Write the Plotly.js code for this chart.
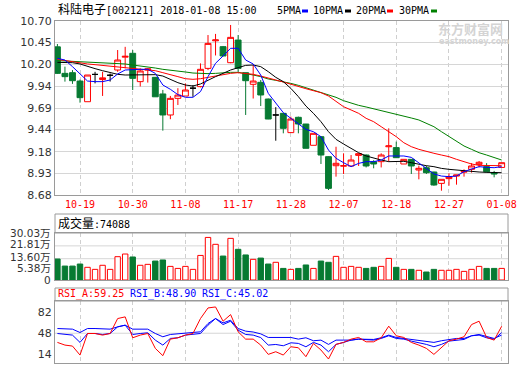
<!DOCTYPE html>
<html>
<head>
<meta charset="utf-8">
<script src="https://cdn.plot.ly/plotly-3.0.1.min.js"></script>
<style>html,body{margin:0;padding:0;background:#fff;}#chart{width:520px;height:365px;}</style>
</head>
<body>
<div id="chart"></div>
<script>
// ---------- data ----------
const dates = ['10-16','10-17','10-18','10-19','10-20','10-23','10-24','10-25','10-26','10-27','10-30','10-31',
  '11-01','11-02','11-03','11-06','11-07','11-08','11-09','11-10','11-13','11-14','11-15','11-16','11-17',
  '11-20','11-21','11-22','11-23','11-24','11-27','11-28','11-29','11-30',
  '12-01','12-04','12-05','12-06','12-07','12-08','12-11','12-12','12-13','12-14','12-15','12-18','12-19',
  '12-20','12-21','12-22','12-25','12-26','12-27','12-28','12-29',
  '01-02','01-03','01-04','01-05','01-08'];
const openP  = [10.40,10.092,10.10,10.003,9.763,10.08,10.02,10.07,10.131,10.28,10.325,9.996,10.13,10.046,9.853,9.609,9.802,9.829,9.92,9.938,
  10.15,10.47,10.402,10.216,10.479,10.10,9.965,9.988,9.794,9.609,9.628,9.404,9.582,9.504,9.257,9.357,9.125,9.02,9.015,9.017,
  9.14,9.144,9.067,9.067,9.24,9.23,9.04,9.094,8.97,8.997,8.947,8.815,8.87,8.90,8.945,8.978,9.036,9.009,8.939,9.0];
const highP  = [10.433,10.17,10.13,10.02,10.073,10.11,10.11,10.09,10.363,10.40,10.363,10.15,10.15,10.05,9.90,9.83,9.92,9.976,9.957,10.208,
  10.537,10.55,10.41,10.654,10.537,10.10,10.19,10.015,9.80,9.70,9.63,9.59,9.59,9.505,9.396,9.36,9.13,9.24,9.164,9.144,
  9.164,9.15,9.085,9.164,9.454,9.30,9.095,9.095,9.02,9.02,8.95,8.862,8.931,8.912,8.978,9.05,9.075,9.05,8.96,9.055];
const lowP   = [10.085,9.996,9.97,9.752,9.763,9.976,9.83,9.997,10.11,10.15,9.899,9.94,9.985,9.82,9.427,9.56,9.725,9.829,9.82,9.93,
  10.13,10.30,10.29,10.21,10.11,9.609,9.80,9.713,9.56,9.31,9.396,9.40,9.396,9.222,9.257,9.04,8.738,8.893,8.924,9.01,
  9.017,9.0,8.99,9.0,9.067,9.11,9.04,8.924,8.862,8.924,8.788,8.73,8.788,8.80,8.893,8.94,9.0,8.94,8.885,9.0];
const closeP = [10.092,10.054,10.007,9.81,10.073,10.08,10.04,10.07,10.247,10.29,10.034,10.12,10.145,9.82,9.609,9.802,9.84,9.899,9.92,10.139,
  10.44,10.48,10.294,10.51,10.15,10.007,10.003,9.841,9.562,9.609,9.454,9.562,9.504,9.222,9.396,9.144,8.757,9.048,9.02,9.086,
  9.16,9.017,9.04,9.144,9.25,9.113,9.094,9.017,8.99,8.939,8.796,8.862,8.89,8.912,8.955,9.017,9.06,8.95,8.924,9.055];
const ma5  = [10.267,10.247,10.170,10.092,10.003,9.996,9.996,10.015,10.085,10.131,10.139,10.139,10.139,10.092,9.957,9.907,9.845,9.814,9.814,9.880,
  10.054,10.209,10.294,10.383,10.383,10.247,10.201,10.073,9.860,9.744,9.636,9.570,9.504,9.442,9.415,9.357,9.202,9.106,9.055,9.009,
  9.047,9.067,9.067,9.086,9.133,9.133,9.133,9.117,9.055,8.989,8.924,8.900,8.893,8.900,8.951,8.982,9.009,9.001,8.997,9.009];
const ma10 = [10.220,10.220,10.216,10.201,10.178,10.147,10.123,10.100,10.081,10.073,10.073,10.077,10.081,10.077,10.061,10.023,9.984,9.957,9.945,9.969,
  10.015,10.054,10.092,10.131,10.158,10.185,10.189,10.170,10.112,10.046,9.996,9.918,9.822,9.713,9.628,9.531,9.415,9.326,9.272,9.222,
  9.171,9.133,9.106,9.086,9.067,9.071,9.071,9.055,9.036,9.020,9.009,8.989,8.978,8.970,8.958,8.951,8.947,8.943,8.939,8.939];
const ma20 = [10.255,10.240,10.224,10.209,10.201,10.193,10.185,10.178,10.170,10.162,10.154,10.147,10.139,10.123,10.100,10.073,10.054,10.030,10.023,10.030,
  10.046,10.065,10.081,10.092,10.100,10.092,10.081,10.061,10.034,10.015,9.992,9.969,9.938,9.914,9.891,9.868,9.829,9.763,9.705,9.667,
  9.628,9.570,9.531,9.473,9.415,9.357,9.287,9.241,9.210,9.183,9.164,9.144,9.125,9.094,9.067,9.040,9.024,9.020,9.020,9.020];
const ma30 = [10.240,10.236,10.232,10.228,10.228,10.224,10.220,10.216,10.209,10.201,10.189,10.178,10.170,10.154,10.139,10.131,10.120,10.108,10.096,10.089,
  10.089,10.092,10.100,10.104,10.104,10.092,10.073,10.054,10.027,10.011,9.996,9.976,9.953,9.926,9.899,9.872,9.845,9.814,9.775,9.744,
  9.721,9.702,9.682,9.659,9.636,9.616,9.597,9.574,9.551,9.512,9.473,9.415,9.357,9.299,9.249,9.210,9.171,9.144,9.117,9.086];
const volume = [13.4,8.9,8.9,10.2,8.1,6.8,9.4,6.8,14.9,16.6,14.7,9.4,10.0,12.1,12.8,8.7,7.4,8.7,6.8,15.7,
  27.2,22.8,15.3,26.6,19.6,16.0,13.2,14.0,10.2,11.3,7.4,6.8,7.4,9.6,7.4,12.1,11.3,15.1,8.1,8.7,
  8.1,7.4,8.1,8.7,13.8,8.1,6.8,6.8,6.2,5.1,6.8,6.2,6.2,6.8,5.5,6.8,8.7,7.4,7.4,7.41];
const rsiA = [33.2,28.9,27.3,12.8,47.6,47.6,45,47.6,71.7,74.4,40.7,45,47.6,23.6,11.8,38.5,40.7,45,47.6,71.7,
  88.8,90.4,67.4,78.1,50.3,38.5,38.5,28.9,13.9,18.2,12.8,26.2,24.6,10.2,31.6,20.9,6.4,30,33.2,38.5,
  41.2,34.2,34.2,40.7,59.4,43.9,41.2,33.2,28.9,23.6,13.9,24.6,35.9,38.5,42.3,62,67.4,41.2,36.9,59.25];
const rsiB = [47.6,46.5,45,33.2,47.6,47.6,46,47.6,58.3,61,46,47.6,48.7,36.9,28.9,39.6,40.7,45,46,47.6,
  61,71.7,62,67.4,53,46,45,41,28.9,29.9,27.8,32.6,31.6,26.2,33.2,28.9,18.2,30,33.2,36.9,
  38.5,38,36.9,39.6,43.9,39.6,38.5,35.3,33.2,30,26.2,30,35.3,36.9,38,43.9,45,40.7,38.5,48.90];
const rsiC = [55.6,55.6,54.6,49.2,55.6,55.6,55.6,54.6,58.3,61,54.6,54.6,54.6,47.6,42.3,46,47,48.7,49.5,50.3,
  63.7,71.7,64.7,69,55.6,51.4,50,47,41.2,41.2,41.2,41.2,38.5,40.7,35.9,36.9,30,36.9,36.9,36.9,
  38.5,38.5,38,40.7,45,41.2,39.6,38,36.9,35.9,33.2,35.9,38,39.6,39.6,43.9,46,42.3,39.6,45.02];
const xTicks = ['10-19','10-30','11-08','11-17','11-28','12-07','12-18','12-27','01-08'];
const priceTicks = [8.68,8.93,9.18,9.44,9.69,9.94,10.20,10.45,10.70];
const volTicks = [0,5.38,13.60,21.81,30.03];
const volTickText = ['0','5.38万','13.60万','21.81万','30.03万'];
const volGrid = [13.60,21.81];
const rsiTicks = [14,48,82];
const rsiGrid = [48];
const stockTitle = ['科陆电子','[002121] 2018-01-08 15:00'];
const volTitle = ['成交量',':74088'];
const rsiLabels = ['RSI_A:59.25','RSI_B:48.90','RSI_C:45.02'];
const maNames = ['5PMA','10PMA','20PMA','30PMA'];
const watermark = ['东方财富网','eastmoney.com'];

// ---------- styling ----------
const RED='#ff0000', GREEN='#077a32', BLUE='#0000ff', BLACK='#000000', DKGREEN='#008000';
const FRAME='#9a9a9a', GRID='#d6d6d6';
const MONO='DejaVu Sans Mono, Noto Sans CJK SC, monospace';
const W=520,H=365,ML=55,MR=12,MT=21,MB=2;
const PW=W-ML-MR, PH=H-MT-MB;
const X=px=>(px-ML)/PW, Y=py=>(H-MB-py)/PH;
const volLabelShift=[0,3.5,2,1.5,0];

// split candles: doji (open == close) drawn black
const cN={x:[],o:[],h:[],l:[],c:[]}, cD={x:[],o:[],h:[],l:[],c:[]};
dates.forEach((d,i)=>{
  const t = (openP[i]===closeP[i]) ? cD : cN;
  t.x.push(d); t.o.push(openP[i]); t.h.push(highP[i]); t.l.push(lowP[i]); t.c.push(closeP[i]);
});
const up = dates.map((d,i)=>closeP[i]>=openP[i]);

const traces = [
  {type:'candlestick', x:cN.x, open:cN.o, high:cN.h, low:cN.l, close:cN.c, xaxis:'x', yaxis:'y',
   increasing:{line:{color:RED,width:1}, fillcolor:'#ffffff'},
   decreasing:{line:{color:GREEN,width:1}, fillcolor:GREEN}, whiskerwidth:0, hoverinfo:'skip'},
  {type:'candlestick', x:cD.x, open:cD.o, high:cD.h, low:cD.l, close:cD.c, xaxis:'x', yaxis:'y',
   increasing:{line:{color:BLACK,width:1}, fillcolor:BLACK},
   decreasing:{line:{color:BLACK,width:1}, fillcolor:BLACK}, whiskerwidth:0, hoverinfo:'skip'},
  {type:'scatter', mode:'lines', x:dates, y:ma30, line:{color:DKGREEN,width:1}, xaxis:'x', yaxis:'y', hoverinfo:'skip'},
  {type:'scatter', mode:'lines', x:dates, y:ma20, line:{color:RED,width:1}, xaxis:'x', yaxis:'y', hoverinfo:'skip'},
  {type:'scatter', mode:'lines', x:dates, y:ma10, line:{color:BLACK,width:1}, xaxis:'x', yaxis:'y', hoverinfo:'skip'},
  {type:'scatter', mode:'lines', x:dates, y:ma5, line:{color:BLUE,width:1}, xaxis:'x', yaxis:'y', hoverinfo:'skip'},
  {type:'bar', x:dates, y:volume, width:0.72, xaxis:'x', yaxis:'y2', hoverinfo:'skip',
   marker:{color:up.map(u=>u?'#ffffff':GREEN), line:{color:up.map(u=>u?RED:GREEN), width:1}}},
  {type:'scatter', mode:'lines', x:dates, y:rsiC, line:{color:BLUE,width:1}, xaxis:'x', yaxis:'y3', hoverinfo:'skip'},
  {type:'scatter', mode:'lines', x:dates, y:rsiB, line:{color:BLUE,width:1}, xaxis:'x', yaxis:'y3', hoverinfo:'skip'},
  {type:'scatter', mode:'lines', x:dates, y:rsiA, line:{color:RED,width:1}, xaxis:'x', yaxis:'y3', hoverinfo:'skip'}
];

const tickFont={family:'DejaVu Sans, sans-serif', size:11, color:'#333'};
const yCommon={showline:true, linecolor:FRAME, linewidth:1, mirror:true, zeroline:false, ticks:'',
  tickfont:tickFont, fixedrange:true};

const shapes=[];
volGrid.forEach(v=>shapes.push({type:'line', xref:'paper', x0:0, x1:1, yref:'y2', y0:v, y1:v, layer:'below', line:{color:GRID,width:1}}));
rsiGrid.forEach(v=>shapes.push({type:'line', xref:'paper', x0:0, x1:1, yref:'y3', y0:v, y1:v, layer:'below', line:{color:GRID,width:1}}));
// header boxes
shapes.push({type:'rect', xref:'paper', yref:'paper', x0:0, x1:1, y0:Y(233), y1:Y(214), line:{color:FRAME,width:1}});
shapes.push({type:'rect', xref:'paper', yref:'paper', x0:0, x1:1, y0:Y(301), y1:Y(288), line:{color:FRAME,width:1}});
// legend swatches
const legX=[[276,302],[312,345],[355,387],[398,431]], legC=[BLUE,BLACK,RED,DKGREEN];
legX.forEach((p,i)=>shapes.push({type:'rect', xref:'paper', yref:'paper', x0:X(p[1]), x1:X(p[1]+6), y0:Y(12.5), y1:Y(9.5),
  fillcolor:legC[i], line:{width:0}}));

const ann=[];
const A=(text,px,py,color,size,extra)=>ann.push(Object.assign({text:text, xref:'paper', yref:'paper', x:X(px), y:Y(py),
  xanchor:'left', yanchor:'middle', showarrow:false, font:{family:MONO, size:size, color:color}}, extra||{}));
A('<span style="font-size:12px">'+stockTitle[0]+'</span>'+stockTitle[1], 56, 10, '#000', 10);
maNames.forEach((n,i)=>A(n, legX[i][0]-1, 10.5, '#000', 10));
A('<span style="font-size:12px">'+volTitle[0]+'</span>'+volTitle[1], 56, 223.5, '#000', 10);
A(rsiLabels[0], 56, 294, RED, 10);
A(rsiLabels[1], 128, 294, BLUE, 10);
A(rsiLabels[2], 200, 294, BLUE, 10);
// watermark
A('<b>'+watermark[0]+'</b>', 436, 28, '#d4d4d4', 13, {font:{family:'Noto Sans CJK SC, sans-serif', size:13, color:'#d4d4d4'}});
A('<b>'+watermark[1]+'</b>', 437, 41.5, '#d4d4d4', 8, {font:{family:'DejaVu Sans, sans-serif', size:8, color:'#d4d4d4'}});
// volume axis labels (drawn through the y2 scale, nudged apart like the original)
volTicks.forEach((v,i)=>ann.push({text:volTickText[i], xref:'paper', x:X(53), yref:'y2', y:v, yshift:volLabelShift[i],
  xanchor:'right', yanchor:'middle', showarrow:false,
  font:{family:'DejaVu Sans, Noto Sans CJK SC, sans-serif', size:10.5, color:'#333'}}));

const layout={
  width:W, height:H, margin:{l:ML,r:MR,t:MT,b:MB,pad:0},
  paper_bgcolor:'#ffffff', plot_bgcolor:'#ffffff', showlegend:false,
  boxgap:0.22, boxgroupgap:0, bargap:0,
  xaxis:{type:'category', categoryorder:'array', categoryarray:dates, range:[-0.32,59.84],
    tickvals:xTicks, ticktext:xTicks, showgrid:true, griddash:'4px,3px', gridcolor:'#cfcfcf', gridwidth:1,
    showline:true, linecolor:FRAME, mirror:'all', ticks:'', anchor:'y', zeroline:false,
    tickfont:{family:MONO, size:10, color:RED}, rangeslider:{visible:false}, fixedrange:true, tickangle:0},
  yaxis:Object.assign({}, yCommon, {domain:[Y(195),1], range:[8.68,10.70], tickvals:priceTicks,
    ticktext:priceTicks.map(v=>v.toFixed(2)), showgrid:true, gridcolor:GRID}),
  yaxis2:Object.assign({}, yCommon, {domain:[Y(280),Y(233)], range:[0,30.03], tickvals:volTicks,
    showticklabels:false, showgrid:false}),
  yaxis3:Object.assign({}, yCommon, {domain:[0,Y(301)], range:[0,100], tickvals:rsiTicks,
    ticktext:rsiTicks.map(String), showgrid:false}),
  shapes:shapes, annotations:ann
};
Plotly.newPlot('chart', traces, layout, {staticPlot:true, displayModeBar:false});
</script>
</body>
</html>
